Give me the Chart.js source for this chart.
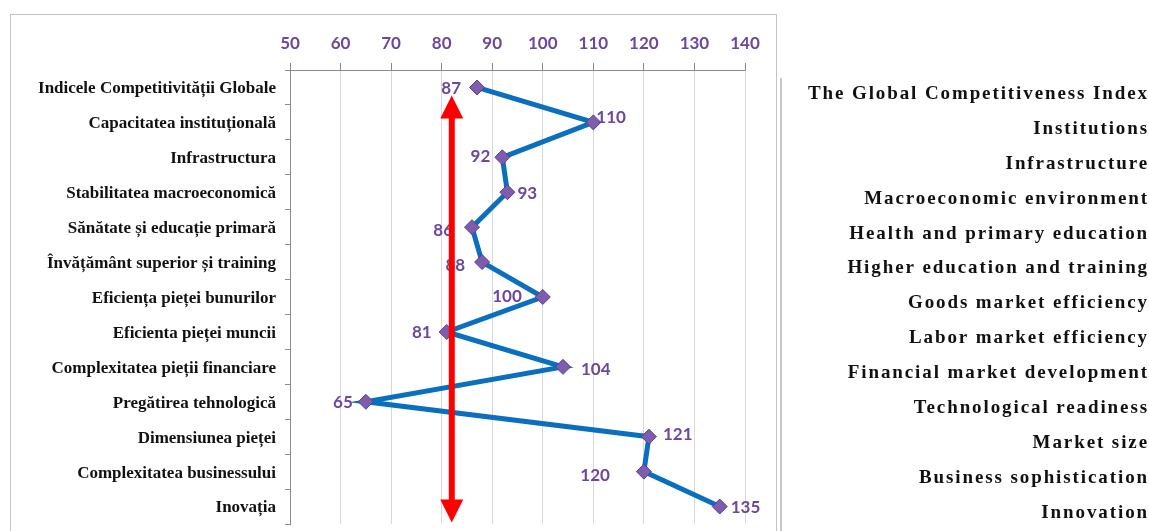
<!DOCTYPE html>
<html>
<head>
<meta charset="utf-8">
<script src="https://cdn.jsdelivr.net/npm/chart.js@4.4.1/dist/chart.umd.min.js"></script>
<style>
  html, body { margin: 0; padding: 0; background: #ffffff; }
  #wrap { position: relative; width: 1149px; height: 531px; overflow: hidden; background: #ffffff; }
  #c { position: absolute; left: 0; top: 0; }
  #frame { position: absolute; left: 10px; top: 14px; width: 765px; height: 600px; border: 1px solid #c3c3c3; pointer-events: none; }
  #panelLine { position: absolute; left: 780px; top: 78px; width: 2px; height: 460px; background: #c6c6c6; pointer-events: none; }
</style>
</head>
<body>
<div id="wrap">
  <canvas id="c" width="1149" height="531"></canvas>
  <div id="frame"></div>
  <div id="panelLine"></div>
</div>
<script>
// ---- data ----
const categoriesRo = [
  'Indicele Competitivității Globale',
  'Capacitatea instituțională',
  'Infrastructura',
  'Stabilitatea macroeconomică',
  'Sănătate și educație primară',
  'Învățământ superior și training',
  'Eficiența pieței bunurilor',
  'Eficienta pieței muncii',
  'Complexitatea pieții financiare',
  'Pregătirea tehnologică',
  'Dimensiunea pieței',
  'Complexitatea businessului',
  'Inovația'
];
const categoriesEn = [
  'The Global Competitiveness Index',
  'Institutions',
  'Infrastructure',
  'Macroeconomic environment',
  'Health and primary education',
  'Higher education and training',
  'Goods market efficiency',
  'Labor market efficiency',
  'Financial market development',
  'Technological readiness',
  'Market size',
  'Business sophistication',
  'Innovation'
];
const rankValues = [87, 110, 92, 93, 86, 88, 100, 81, 104, 65, 121, 120, 135];
const xTickMin = 50;
const xTickMax = 140;
const xTickStep = 10;
const arrowValue = 82;           // red reference arrow position on the value axis
const arrowFromIndex = 0;        // category where the arrow starts
const arrowToIndex = 12;         // category where the arrow ends

// ---- label placement styles (pixel nudges for data labels) ----
const labelDx = [-16, 3, -12, 10, -19, -17, -21, -15, 18, -13, 14, -34, 11];
const labelDy = [1, -5, -1, 1, 3, 3, 0, 1, 3, 1, -2, 4, 1];

const PURPLE = '#6C479E';

function noPad(scale) {
  scale.paddingTop = 0;
  scale.paddingBottom = 0;
  scale.paddingLeft = 0;
  scale.paddingRight = 0;
}

const dataLabelPlugin = {
  id: 'dataLabels',
  afterDatasetsDraw(chart) {
    const ctx = chart.ctx;
    const meta = chart.getDatasetMeta(0);
    ctx.save();
    ctx.font = 'bold 17px Lato, "Open Sans", sans-serif';
    ctx.fillStyle = PURPLE;
    ctx.textBaseline = 'middle';
    meta.data.forEach((el, i) => {
      const dx = labelDx[i];
      ctx.textAlign = dx < 0 ? 'right' : 'left';
      ctx.fillText(String(rankValues[i]), el.x + dx, el.y + labelDy[i]);
    });
    ctx.restore();
  }
};

const arrowPlugin = {
  id: 'redArrow',
  afterDraw(chart) {
    const ctx = chart.ctx;
    const xs = chart.scales.x, ys = chart.scales.y;
    const x = xs.getPixelForValue(arrowValue);
    const top = ys.getPixelForValue(arrowFromIndex) + 8;
    const bottom = ys.getPixelForValue(arrowToIndex) + 16;
    const headH = 23, headW = 11.5, shaft = 3;
    ctx.save();
    ctx.fillStyle = '#FF0000';
    ctx.fillRect(x - shaft, top + headH - 1, shaft * 2, (bottom - top) - 2 * headH + 2);
    ctx.beginPath();
    ctx.moveTo(x, top);
    ctx.lineTo(x + headW, top + headH);
    ctx.lineTo(x - headW, top + headH);
    ctx.closePath();
    ctx.fill();
    ctx.beginPath();
    ctx.moveTo(x, bottom);
    ctx.lineTo(x + headW, bottom - headH);
    ctx.lineTo(x - headW, bottom - headH);
    ctx.closePath();
    ctx.fill();
    ctx.restore();
  }
};

const spacingPlugin = {
  id: 'spacing',
  beforeDraw(chart) {
    const s = chart.scales.y2;
    if (s && !s.__wrapped) {
      const orig = s.drawLabels;
      s.drawLabels = function (area) {
        const c = this.ctx;
        c.save();
        try { c.letterSpacing = '1.9px'; } catch (e) {}
        orig.call(this, area);
        c.restore();
      };
      s.__wrapped = true;
    }
  }
};

new Chart(document.getElementById('c'), {
  type: 'line',
  data: {
    labels: categoriesRo,
    datasets: [{
      data: rankValues,
      borderColor: '#0A6FBF',
      borderWidth: 5,
      tension: 0,
      pointStyle: 'rectRot',
      pointRadius: 7.5,
      pointBackgroundColor: '#7E5DAE',
      pointBorderColor: '#5A3D88',
      pointBorderWidth: 1,
      fill: false
    }]
  },
  options: {
    indexAxis: 'y',
    responsive: false,
    animation: false,
    devicePixelRatio: 1,
    layout: { autoPadding: false, padding: { left: 0, right: 0, top: 0, bottom: 7 } },
    plugins: { legend: { display: false }, tooltip: { enabled: false } },
    scales: {
      x: {
        type: 'linear',
        position: 'top',
        min: xTickMin,
        max: xTickMax,
        ticks: {
          stepSize: xTickStep,
          color: PURPLE,
          padding: 9,
          font: { family: 'Lato', weight: 'bold', size: 17 }
        },
        grid: { color: '#D9D9D9', tickColor: '#8A8A8A', tickLength: 7, lineWidth: 1 },
        border: { display: true, color: '#8A8A8A', width: 1 },
        afterFit(scale) { scale.height = 70; noPad(scale); }
      },
      y: {
        type: 'category',
        position: 'left',
        offset: true,
        ticks: {
          color: '#111111',
          padding: 9,
          labelOffset: 1.5,
          autoSkip: false,
          font: { family: '"Liberation Serif", "Times New Roman", serif', weight: 'bold', size: 17 }
        },
        grid: { display: true, drawOnChartArea: false, offset: true, tickLength: 5, color: '#8A8A8A' },
        border: { display: true, color: '#8A8A8A', width: 1 },
        afterFit(scale) { scale.width = 290; noPad(scale); }
      },
      y2: {
        type: 'category',
        axis: 'y',
        position: 'right',
        labels: categoriesEn,
        offset: true,
        ticks: {
          color: '#111111',
          crossAlign: 'far',
          labelOffset: 6.5,
          autoSkip: false,
          font: { family: '"Liberation Serif", "Times New Roman", serif', weight: 'bold', size: 19 }
        },
        grid: { display: false },
        border: { display: false },
        afterFit(scale) { scale.width = 404; noPad(scale); }
      }
    }
  },
  plugins: [dataLabelPlugin, arrowPlugin, spacingPlugin]
});
</script>
</body>
</html>
